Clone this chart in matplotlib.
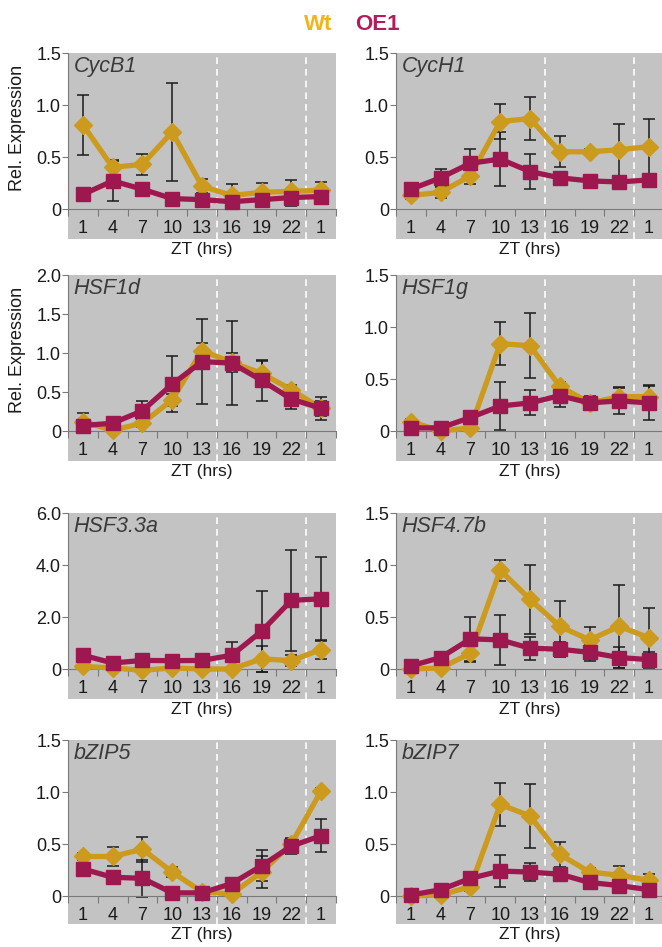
import numpy as np
import matplotlib.pyplot as plt

plt.rcParams['font.family'] = ['Liberation Sans', 'DejaVu Sans']

zt_labels = ['1', '4', '7', '10', '13', '16', '19', '22', '1']

genes = ['CycB1', 'CycH1', 'HSF1d', 'HSF1g', 'HSF3.3a', 'HSF4.7b', 'bZIP5', 'bZIP7']
ymax = [1.5, 1.5, 2.0, 1.5, 6.0, 1.5, 1.5, 1.5]

# Wt means / errors
wt_cycb1 = [0.81, 0.40, 0.43, 0.74, 0.22, 0.13, 0.16, 0.17, 0.18]
wt_cycb1_err = [0.29, 0.07, 0.10, 0.47, 0.07, 0.11, 0.09, 0.11, 0.08]
wt_cych1 = [0.13, 0.16, 0.32, 0.84, 0.87, 0.55, 0.55, 0.57, 0.60]
wt_cych1_err = [0.03, 0.05, 0.08, 0.17, 0.21, 0.15, 0.03, 0.25, 0.27]
wt_hsf1d = [0.12, 0.01, 0.10, 0.40, 1.03, 0.88, 0.74, 0.53, 0.29]
wt_hsf1d_err = [0.11, 0.02, 0.05, 0.08, 0.10, 0.12, 0.16, 0.06, 0.10]
wt_hsf1g = [0.09, 0.00, 0.03, 0.84, 0.82, 0.43, 0.27, 0.33, 0.33]
wt_hsf1g_err = [0.03, 0.02, 0.03, 0.21, 0.31, 0.04, 0.05, 0.08, 0.11]
wt_hsf33a = [0.10, 0.04, -0.05, 0.04, 0.00, 0.00, 0.39, 0.32, 0.75]
wt_hsf33a_err = [0.05, 0.03, 0.04, 0.03, 0.03, 0.05, 0.50, 0.20, 0.37]
wt_hsf47b = [0.00, 0.01, 0.15, 0.95, 0.67, 0.41, 0.28, 0.41, 0.30]
wt_hsf47b_err = [0.02, 0.02, 0.08, 0.10, 0.33, 0.24, 0.12, 0.40, 0.29]
wt_bzip5 = [0.38, 0.38, 0.45, 0.23, 0.04, 0.02, 0.23, 0.50, 1.01]
wt_bzip5_err = [0.03, 0.09, 0.12, 0.05, 0.02, 0.02, 0.15, 0.05, 0.03]
wt_bzip7 = [0.00, 0.01, 0.09, 0.88, 0.77, 0.40, 0.23, 0.20, 0.15]
wt_bzip7_err = [0.01, 0.01, 0.04, 0.21, 0.31, 0.12, 0.04, 0.09, 0.06]

# OE1 means / errors
oe_cycb1 = [0.14, 0.27, 0.19, 0.10, 0.09, 0.07, 0.09, 0.11, 0.12]
oe_cycb1_err = [0.05, 0.19, 0.04, 0.03, 0.04, 0.04, 0.04, 0.08, 0.05]
oe_cych1 = [0.19, 0.30, 0.44, 0.48, 0.36, 0.30, 0.27, 0.26, 0.28]
oe_cych1_err = [0.04, 0.08, 0.14, 0.26, 0.17, 0.06, 0.04, 0.04, 0.05]
oe_hsf1d = [0.07, 0.10, 0.26, 0.60, 0.89, 0.87, 0.65, 0.41, 0.29]
oe_hsf1d_err = [0.04, 0.04, 0.12, 0.36, 0.55, 0.54, 0.26, 0.13, 0.15]
oe_hsf1g = [0.03, 0.03, 0.13, 0.24, 0.27, 0.34, 0.27, 0.29, 0.27]
oe_hsf1g_err = [0.02, 0.02, 0.06, 0.23, 0.12, 0.11, 0.07, 0.13, 0.16]
oe_hsf33a = [0.53, 0.23, 0.33, 0.32, 0.33, 0.53, 1.45, 2.64, 2.70]
oe_hsf33a_err = [0.08, 0.05, 0.05, 0.05, 0.05, 0.50, 1.55, 1.93, 1.62]
oe_hsf47b = [0.03, 0.11, 0.29, 0.28, 0.20, 0.19, 0.16, 0.11, 0.09]
oe_hsf47b_err = [0.02, 0.04, 0.21, 0.24, 0.11, 0.07, 0.08, 0.10, 0.07]
oe_bzip5 = [0.26, 0.18, 0.17, 0.03, 0.03, 0.12, 0.29, 0.48, 0.58]
oe_bzip5_err = [0.04, 0.03, 0.18, 0.02, 0.02, 0.03, 0.15, 0.08, 0.16]
oe_bzip7 = [0.01, 0.06, 0.17, 0.24, 0.23, 0.21, 0.13, 0.10, 0.06]
oe_bzip7_err = [0.01, 0.02, 0.05, 0.15, 0.09, 0.04, 0.03, 0.03, 0.03]

wt_all = [wt_cycb1, wt_cych1, wt_hsf1d, wt_hsf1g, wt_hsf33a, wt_hsf47b, wt_bzip5, wt_bzip7]
wt_err_all = [wt_cycb1_err, wt_cych1_err, wt_hsf1d_err, wt_hsf1g_err,
              wt_hsf33a_err, wt_hsf47b_err, wt_bzip5_err, wt_bzip7_err]
oe_all = [oe_cycb1, oe_cych1, oe_hsf1d, oe_hsf1g, oe_hsf33a, oe_hsf47b, oe_bzip5, oe_bzip7]
oe_err_all = [oe_cycb1_err, oe_cych1_err, oe_hsf1d_err, oe_hsf1g_err,
              oe_hsf33a_err, oe_hsf47b_err, oe_bzip5_err, oe_bzip7_err]

wt_col = '#CC9A1C'
oe_col = '#9E1850'
bg = '#C3C3C3'
axcol = '#7A7A7A'

W, H = 662, 947
fig = plt.figure(figsize=(W / 100, H / 100), dpi=100)

lefts = [68, 396]
tops = [53, 275, 513, 740]
belows = [30, 30, 30, 28]
data_h = 156
ax_w = 268

x = np.arange(len(zt_labels))

for i, gene in enumerate(genes):
    row, col = divmod(i, 2)
    top = tops[row]
    below = belows[row]
    bottom = top + data_h + below
    ax = fig.add_axes([lefts[col] / W, 1 - bottom / H, ax_w / W, (data_h + below) / H])
    ax.set_facecolor(bg)
    ym = ymax[i]
    ax.set_ylim(-ym * below / data_h, ym)
    ax.set_xlim(-0.5, 8.5)

    for xv in [4.5, 7.5]:
        ax.axvline(xv, color='white', ls=(0, (4, 3)), lw=1.2, zorder=1)

    ax.errorbar(x, wt_all[i], yerr=wt_err_all[i], fmt='none', ecolor='#1a1a1a',
                elinewidth=1.1, capsize=4, capthick=1.1, zorder=2)
    ax.errorbar(x, oe_all[i], yerr=oe_err_all[i], fmt='none', ecolor='#1a1a1a',
                elinewidth=1.1, capsize=4, capthick=1.1, zorder=2)
    ax.plot(x, wt_all[i], color=wt_col, lw=3.8, marker='D', ms=9, mec=wt_col, zorder=3)
    ax.plot(x, oe_all[i], color=oe_col, lw=3.8, marker='s', ms=10, mec=oe_col, zorder=4)

    for s in ['top', 'right']:
        ax.spines[s].set_visible(False)
    ax.spines['left'].set_bounds(0, ym)
    ax.spines['left'].set_color(axcol)
    ax.spines['bottom'].set_position(('data', 0))
    ax.spines['bottom'].set_color(axcol)

    # x ticks at category boundaries, labels at centers
    ax.set_xticks(np.arange(-0.5, 9, 1))
    ax.set_xticklabels([])
    ax.set_xticks(x, minor=True)
    ax.set_xticklabels(zt_labels, minor=True)
    ax.tick_params(axis='x', which='major', direction='out', length=5, color=axcol)
    ax.tick_params(axis='x', which='minor', length=0, pad=8, labelsize=13, labelcolor='#1a1a1a')

    step = 2.0 if ym > 3 else 0.5
    yt = np.arange(0, ym + 1e-9, step)
    ax.set_yticks(yt)
    ax.set_yticklabels(['0' if v == 0 else f'{v:.1f}' for v in yt])
    ax.tick_params(axis='y', direction='out', length=4, color=axcol, pad=1,
                   labelsize=13, labelcolor='#1a1a1a')

    ax.text(0.5, 1 - (data_h + below + 3) / (data_h + below), 'ZT (hrs)',
            transform=ax.transAxes, ha='center', va='top', fontsize=12.5, color='#1a1a1a')
    ax.text(0.02, 0.985, gene, transform=ax.transAxes, ha='left', va='top',
            fontsize=15.5, style='italic', color='#3a3a3a')

    if col == 0 and row < 2:
        ax.text(-0.187, 0.595, 'Rel. Expression', transform=ax.transAxes, rotation=90,
                ha='center', va='center', fontsize=13, color='#1a1a1a')

fig.text(318 / W, 1 - 24 / H, 'Wt', color='#F2B418', fontsize=16, fontweight='bold',
         ha='center', va='center')
fig.text(377 / W, 1 - 24 / H, 'OE1', color='#B31C5C', fontsize=16, fontweight='bold',
         ha='center', va='center')

fig.savefig('out.png', dpi=100)
